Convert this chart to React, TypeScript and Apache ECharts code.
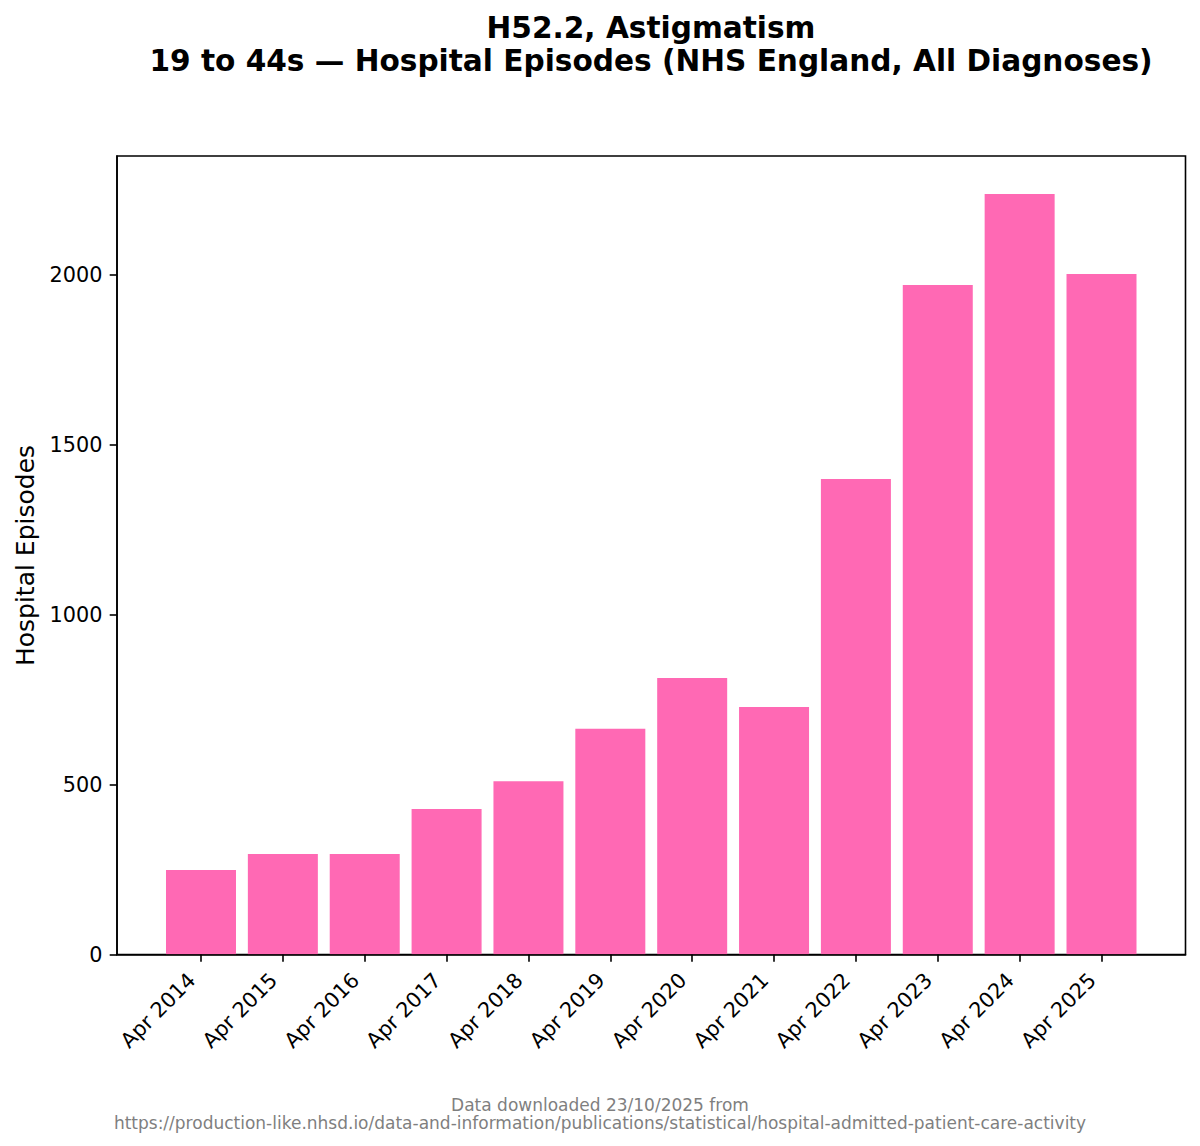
import React, { useEffect, useRef } from "react";
import * as echarts from "echarts";

const categories = [
  "Apr 2014", "Apr 2015", "Apr 2016", "Apr 2017", "Apr 2018", "Apr 2019",
  "Apr 2020", "Apr 2021", "Apr 2022", "Apr 2023", "Apr 2024", "Apr 2025",
];
const episodes = [249, 296, 296, 428, 510, 664, 814, 728, 1399, 1970, 2238, 2003];
const yTicks = [0, 500, 1000, 1500, 2000];

const titleLines = [
  "H52.2, Astigmatism",
  "19 to 44s — Hospital Episodes (NHS England, All Diagnoses)",
];
const yAxisTitle = "Hospital Episodes";
const footerLines = [
  "Data downloaded 23/10/2025 from",
  "https://production-like.nhsd.io/data-and-information/publications/statistical/hospital-admitted-patient-care-activity",
];

const FONT = "DejaVu Sans";

export default function App() {
  const ref = useRef<HTMLDivElement>(null);

  useEffect(() => {
    document.body.style.margin = "0";
    const chart = echarts.init(ref.current!, undefined, { renderer: "svg" });
    const xIdx = categories.map((_, i) => i);
    const yMax = Math.max(...episodes) * 1.05;

    chart.setOption({
      animation: false,
      backgroundColor: "#ffffff",
      textStyle: { fontFamily: FONT },
      grid: {
        left: 117,
        right: 14.5,
        top: 156,
        bottom: 191.5,
        show: true,
        borderColor: "#000",
        borderWidth: 1.6,
        backgroundColor: "transparent",
      },
      xAxis: {
        type: "value",
        min: -1.026,
        max: 12.026,
        z: 5,
        axisLine: { show: true, onZero: false, lineStyle: { color: "#000", width: 1.6 } },
        axisTick: {
          show: true,
          customValues: xIdx,
          length: 7.3,
          lineStyle: { color: "#000", width: 1.6 },
        },
        axisLabel: {
          customValues: xIdx,
          rotate: 45,
          margin: 13,
          padding: [0, 13, 0, 0],
          color: "#000",
          fontSize: 20.8,
          fontFamily: FONT,
          formatter: (v: number) => categories[Math.round(v)] ?? "",
        },
        splitLine: { show: false },
      },
      yAxis: {
        type: "value",
        min: 0,
        max: yMax,
        z: 5,
        axisLine: { show: true, onZero: false, lineStyle: { color: "#000", width: 1.6 } },
        axisTick: {
          show: true,
          customValues: yTicks,
          length: 7.3,
          lineStyle: { color: "#000", width: 1.6 },
        },
        axisLabel: {
          customValues: yTicks,
          margin: 14.6,
          color: "#000",
          fontSize: 20.8,
          fontFamily: FONT,
          formatter: (v: number) => String(Math.round(v)),
        },
        splitLine: { show: false },
      },
      series: [
        {
          type: "bar",
          data: episodes.map((v, i) => [i, v]),
          barWidth: 70,
          itemStyle: { color: "#ff69b4" },
        },
      ],
      graphic: [
        {
          type: "text",
          x: 651,
          y: 27.5,
          style: {
            text: titleLines[0],
            fontSize: 29.6,
            fontWeight: "bold",
            fontFamily: FONT,
            fill: "#000",
            align: "center",
            verticalAlign: "middle",
          },
        },
        {
          type: "text",
          x: 651,
          y: 61,
          style: {
            text: titleLines[1],
            fontSize: 29.6,
            fontWeight: "bold",
            fontFamily: FONT,
            fill: "#000",
            align: "center",
            verticalAlign: "middle",
          },
        },
        {
          type: "text",
          x: 25,
          y: 555.5,
          rotation: Math.PI / 2,
          style: {
            text: yAxisTitle,
            fontSize: 25,
            fontFamily: FONT,
            fill: "#000",
            align: "center",
            verticalAlign: "middle",
          },
        },
        {
          type: "text",
          x: 600,
          y: 1104.5,
          style: {
            text: footerLines[0],
            fontSize: 17,
            fontFamily: FONT,
            fill: "#7f7f7f",
            align: "center",
            verticalAlign: "middle",
          },
        },
        {
          type: "text",
          x: 600,
          y: 1122.5,
          style: {
            text: footerLines[1],
            fontSize: 17,
            fontFamily: FONT,
            fill: "#7f7f7f",
            align: "center",
            verticalAlign: "middle",
          },
        },
      ],
    });

    return () => chart.dispose();
  }, []);

  return <div ref={ref} style={{ width: 1200, height: 1146 }} />;
}
